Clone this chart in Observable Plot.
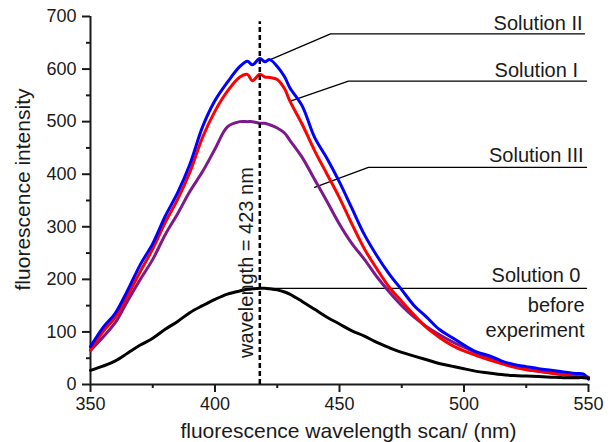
<!DOCTYPE html>
<html>
<head>
<meta charset="utf-8">
<script src="https://cdn.jsdelivr.net/npm/d3@7"></script>
<script src="https://cdn.jsdelivr.net/npm/@observablehq/plot@0.6"></script>
<style>
  html, body { margin: 0; padding: 0; background: #fff; }
</style>
</head>
<body>
<div id="chart"></div>
<script>
// wavelengths (nm)
const wavelength = [350,355,360,365,370,375,380,385,390,395,400,405,410,413,415,418,420,422,425,428,430,435,440,445,450,455,460,465,470,475,480,485,490,495,500,505,510,515,520,525,530,535,540,545,548,550];

// Solution II (blue)
const solutionII = [72,108,136,180,228,268,320,365,420,490,540,575,605,615,608,620,614,618,605,585,565,530,470,430,385,335,285,245,210,180,150,128,105,90,75,62,55,45,38,34,30,27,24,21,20,10];
// Solution I (red)
const solutionI  = [65,100,128,170,215,258,308,352,405,470,520,558,585,590,578,590,585,584,580,562,540,495,445,400,355,305,258,220,185,158,132,108,90,75,64,55,47,40,33,28,25,22,19,17,16,12];
// Solution III (purple)
const solutionIII = [65,90,118,160,200,238,285,325,368,405,448,490,500,500,500,497,497,494,488,478,465,432,390,348,305,268,238,205,176,150,128,110,95,82,71,60,50,42,35,29,25,22,19,17,16,14];
// Solution 0 before experiment (black)
const solution0 = [27,35,45,60,75,88,105,120,137,150,162,172,178,181,182,183,183,182,180,176,172,158,143,128,115,102,92,80,70,61,54,47,40,35,30,25,22,19,17,16,15,14,13,13,13,12];

const seriesNames = ["Solution III", "Solution I", "Solution II", "Solution 0"];
const seriesValues = [solutionIII, solutionI, solutionII, solution0];

const yTicks = [0,100,200,300,400,500,600,700];
const yMinor = [50,150,250,350,450,550,650];
const xTicks = [350,400,450,500,550];
const xMinor = [375,425,475,525];

const peakWavelength = 418;
const peakLabel = "wavelength = 423 nm";

// leader lines (data units: nm, intensity)
const leaderII  = [[422.7,619],[446.4,667],[548.4,667]];
const leaderI   = [[430.3,539],[453.6,577],[549.2,577]];
const leaderIII = [[440,375],[461.6,413],[549.2,413]];
const leader0   = [[418,183],[549.2,183]];

const xTitle = "fluorescence wavelength scan/ (nm)";
const yTitle = "fluorescence intensity";

// build tables
const colors = {"Solution II": "#0000ff", "Solution I": "#ff0000", "Solution III": "#7d1a8b", "Solution 0": "#000000"};
const rows = [];
seriesNames.forEach((name, i) => {
  seriesValues[i].forEach((v, j) => rows.push({series: name, x: wavelength[j], y: v}));
});
const leaders = [];
[["II", leaderII], ["I", leaderI], ["III", leaderIII], ["0", leader0]].forEach(([k, pts]) => {
  pts.forEach(p => leaders.push({k, x: p[0], y: p[1]}));
});

const textColor = "#1a1a1a";

const chart = Plot.plot({
  width: 614,
  height: 442,
  marginLeft: 90,
  marginRight: 26,
  marginTop: 16,
  marginBottom: 58,
  style: {fontFamily: "'Liberation Sans', Arial, Helvetica, sans-serif", fontSize: "18px", background: "#fff", color: textColor},
  x: {domain: [350, 550]},
  y: {domain: [0, 700]},
  marks: [
    // axes
    Plot.axisY(yTicks, {tickSize: 8, tickPadding: 6, fontSize: 18, strokeWidth: 2, label: null, fill: textColor}),
    Plot.axisY(yMinor, {tickSize: 4, tickFormat: () => "", strokeWidth: 2, label: null}),
    Plot.axisX(xTicks, {tickSize: 8, tickPadding: 5, fontSize: 18, strokeWidth: 2, label: null, fill: textColor}),
    Plot.axisX(xMinor, {tickSize: 4, tickFormat: () => "", strokeWidth: 2, label: null}),
    Plot.ruleX([350], {strokeWidth: 2}),
    Plot.ruleY([0], {strokeWidth: 2}),
    // leader lines
    Plot.line(leaders, {x: "x", y: "y", z: "k", stroke: "black", strokeWidth: 1.3}),
    // curves
    Plot.line(rows, {x: "x", y: "y", z: "series", stroke: d => colors[d.series], strokeWidth: 3, curve: "catmull-rom"}),
    // dashed peak line
    Plot.ruleX([peakWavelength], {y1: 0, y2: 690, stroke: "black", strokeWidth: 2.5, strokeDasharray: "5,3"}),
    Plot.text([peakLabel], {x: peakWavelength, y: 232, dx: -7, rotate: -90, textAnchor: "middle", lineAnchor: "bottom", fontSize: 20, fill: textColor}),
    // series labels
    Plot.text(["Solution II"], {x: leaderII[2][0], y: leaderII[2][1], dx: -2, dy: -4, textAnchor: "end", lineAnchor: "bottom", fontSize: 20, fill: textColor}),
    Plot.text(["Solution I "], {x: leaderI[2][0], y: leaderI[2][1], dx: -3, dy: -4, textAnchor: "end", lineAnchor: "bottom", fontSize: 20, fill: textColor}),
    Plot.text(["Solution III"], {x: leaderIII[2][0], y: leaderIII[2][1], dx: -3, dy: -5, textAnchor: "end", lineAnchor: "bottom", fontSize: 20, fill: textColor}),
    Plot.text(["Solution 0"], {x: leader0[1][0], y: leader0[1][1], dx: -6, dy: -6, textAnchor: "end", lineAnchor: "bottom", fontSize: 20, fill: textColor}),
    Plot.text(["before\nexperiment"], {x: leader0[1][0], y: leader0[1][1], dx: -2, dy: 6, textAnchor: "end", lineAnchor: "top", lineHeight: 1.25, fontSize: 20, fill: textColor}),
    // axis titles
    Plot.text([xTitle], {frameAnchor: "bottom", dx: 9, dy: 47, textAnchor: "middle", lineAnchor: "middle", fontSize: 21, fill: textColor}),
    Plot.text([yTitle], {frameAnchor: "left", dx: -67, dy: -11, rotate: -90, textAnchor: "middle", lineAnchor: "middle", fontSize: 21, fill: textColor})
  ]
});
document.getElementById("chart").appendChild(chart);
</script>
</body>
</html>
